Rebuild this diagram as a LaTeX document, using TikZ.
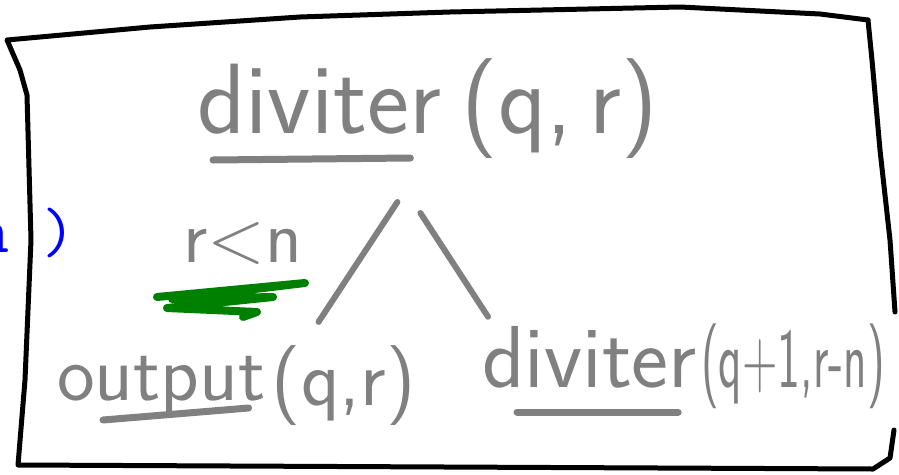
\documentclass[tikz,border=0pt]{standalone}
\usepackage{tikz}
\usetikzlibrary{positioning}
\definecolor{pen}{HTML}{808080}
\definecolor{marker}{HTML}{008000}

\begin{document}
\begin{tikzpicture}[x=1pt,y=-1pt,line cap=round,line join=round]
\tikzstyle{fname}=[text=pen,font=\sffamily\fontsize{100}{100}\selectfont,
  inner sep=0pt,anchor=base west]
\tikzstyle{small}=[fname,font=\sffamily\fontsize{80}{80}\selectfont]
\tikzstyle{uline}=[draw=pen,line width=7pt]
\tikzstyle{branch}=[draw=pen,line width=6pt]
\tikzstyle{frame}=[draw=black,line width=5pt]
\tikzstyle{scribble}=[draw=marker,line width=8pt]

\useasboundingbox (0,0) rectangle (899,474);

\node[text=blue,font=\ttfamily\fontsize{64}{64}\selectfont,inner sep=0pt,
  anchor=base west] (prev) at (-24,252) {n\ )};

\draw[frame] (868,20) -- (820,14) -- (680,7) -- (450,12) -- (300,17)
  -- (150,27) -- (7,40) -- (20,70) -- (27,95) -- (31,240) -- (25,380)
  -- (18,465) -- (873,469) -- (890,458) -- (894,430);
\draw[frame] (868,20) -- (872,60) -- (880,150) -- (890,240) -- (895,312);

\node[fname] (rootf) at (197,133) {diviter};
\node[fname] (roota) at ([shift={(20,0)}]rootf.base east) {(q,\,r)};
\draw[uline] ([shift={(16,27)}]rootf.base west) -- ([shift={(-31,25)}]rootf.base east);

\node[small,font=\sffamily\fontsize{76}{76}\selectfont] (cond) at (183,262) {r\textless n};
\draw[scribble] ([shift={(-26,35)}]cond.base west) -- ++(148,-14) -- ++(-133,16)
  -- ++(101,-2) -- ++(-106,11) -- ++(90,4) -- ++(-14,5);

\node[small] (leftf) at (57,400) {output};
\node[small] (lefta) at ([shift={(6,5)}]leftf.base east) {(q,r)};
\draw[uline] ([shift={(46,20)}]leftf.base west) -- ([shift={(-17,8)}]leftf.base east);

\node[small,font=\sffamily\fontsize{88}{88}\selectfont] (rightf) at (482,387) {diviter};
\node[small,font=\sffamily\fontsize{85}{85}\selectfont,xscale=0.57,transform shape]
  (righta) at ([shift={(4,0)}]rightf.base east) {(q+1,r-n)};
\draw[uline] ([shift={(35,25)}]rightf.base west) -- ([shift={(-19,25)}]rightf.base east);

\draw[branch] ([shift={(-44,69)}]rootf.base east) -- ([shift={(47,-23)}]lefta.north west);
\draw[branch] ([shift={(-21,80)}]rootf.base east) -- ([shift={(6,-9)}]rightf.north west);
\end{tikzpicture}
\end{document}
